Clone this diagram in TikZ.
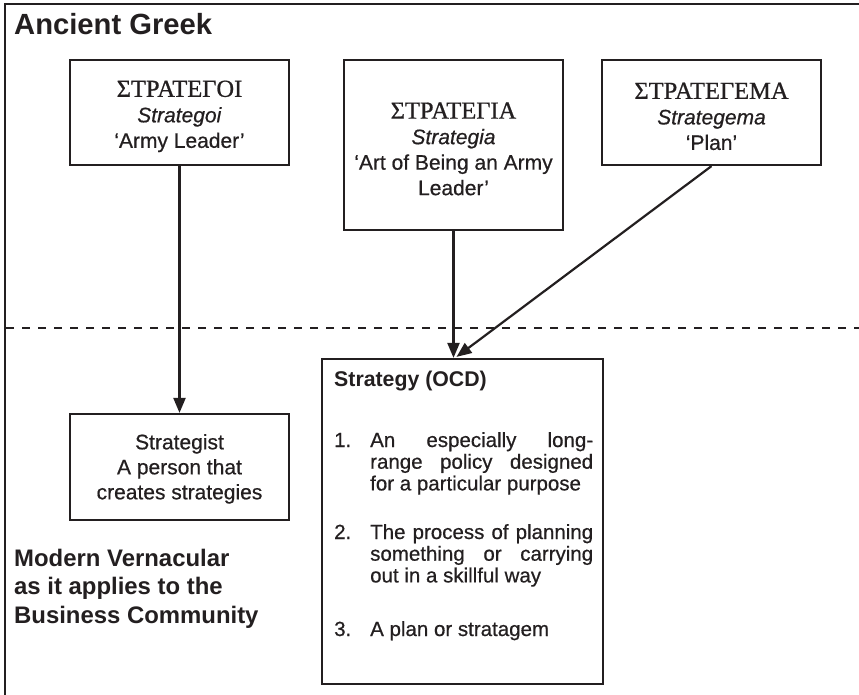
\documentclass[tikz,border=0pt]{standalone}
\usepackage{fontspec}
\setmainfont{Liberation Sans}[UprightFeatures={FakeBold=0.6},ItalicFeatures={FakeBold=0.6}]
\newfontfamily\greekserif{Liberation Serif}[FakeBold=0.8]
\usetikzlibrary{arrows.meta,calc}

\definecolor{ink}{RGB}{35,31,32}

% text sizes
\newcommand\bodysize{\fontsize{21bp}{25.5bp}\selectfont}
\newcommand\listsize{\fontsize{20.5bp}{21.7bp}\selectfont}
% loose justification for the numbered definitions
\newcommand\loosepar{\tolerance=10000 \hbadness=10000 }
% Greek headword on the first line of a term box
\newcommand\greekline[1]{\rule{0pt}{24bp}{\greekserif\fontsize{24.5bp}{25.5bp}\selectfont #1}}

\begin{document}
\begin{tikzpicture}[x=1bp,y=-1bp,
  every node/.style={text=ink},
  term/.style={draw=ink, line width=2.2bp, inner sep=0pt, minimum width=219bp,
    align=center, font=\bodysize},
  link/.style={draw=ink, line width=2.2bp, -{Triangle[length=15bp,width=12bp]}},
  frameline/.style={draw=ink, line width=2.4bp},
  divider/.style={draw=ink, line width=2.4bp, dash pattern=on 7.5bp off 8.5bp},
  heading/.style={anchor=base west, inner sep=0pt,
    font=\bfseries\fontsize{29.2bp}{30bp}\selectfont},
  subheading/.style={anchor=base west, inner sep=0pt, align=left,
    font=\bfseries\fontsize{23.9bp}{28.5bp}\selectfont},
  listnum/.style={anchor=base west, inner sep=0pt, font=\listsize},
  listitem/.style={anchor=base west, inner sep=0pt, text width=223bp,
    align=justify, font=\listsize},
]
\useasboundingbox (0,0) rectangle (859,695);

% frame and era divider
\draw[frameline] (5,696) -- (5,4) -- (860,4);
\draw[divider] (6,328) -- (860,328);

% era labels
\node[heading] (ancient) at (14,35) {Ancient Greek};
\node[subheading] (modern) at (14,623) {Modern Vernacular\\as it applies to the\\Business Community};

% Greek terms
\node[term, minimum height=105bp] (strategoi) at (179.5,112.5)
  {\greekline{ΣΤΡΑΤΕΓΟΙ}\\\textit{Strategoi}\\‘Army Leader’};
\node[term, minimum height=170bp] (strategia) at (453.5,145)
  {\greekline{ΣΤΡΑΤΕΓΙΑ}\\\textit{Strategia}\\‘Art of Being an Army\\Leader’};
\node[term, minimum height=105bp] (strategema) at (711.5,112.5)
  {\greekline{ΣΤΡΑΤΕΓΕΜΑ}\\\textit{Strategema}\\‘Plan’};

% modern terms
\node[term, minimum height=106bp, font=\fontsize{21bp}{25bp}\selectfont] (strategist) at (179.5,467)
  {\rule{0pt}{19bp}Strategist\\A person that\\creates strategies};
\node[draw=ink, line width=2.2bp, inner sep=0pt, minimum width=281bp,
  minimum height=325bp] (strategy) at (462.5,521.5) {};

% dictionary entry inside the strategy box
\node[anchor=base west, inner sep=0pt, font=\bfseries\fontsize{21.3bp}{25bp}\selectfont]
  (ocd) at (334,386) {Strategy (OCD)};
\node[listnum] (n1) at (334,447) {1.};
\node[listitem] (d1) at (370,447)
  {\loosepar An especially long-\linebreak range policy designed\linebreak for a particular purpose};
\node[listnum] (n2) at (334,539) {2.};
\node[listitem] (d2) at (370,539)
  {\loosepar The process of planning\linebreak something or carrying\linebreak out in a skillful way};
\node[listnum] (n3) at (334,636) {3.};
\node[listitem] (d3) at (370,636) {A plan or stratagem};

% derivations
\coordinate (join) at (strategia.south |- strategy.north);
\draw[link] (strategoi.south) -- (strategist.north);
\draw[link] (strategia.south) -- (join);
\draw[link] (strategema.south) -- ($(join)+(3,-1)$);
\end{tikzpicture}
\end{document}
